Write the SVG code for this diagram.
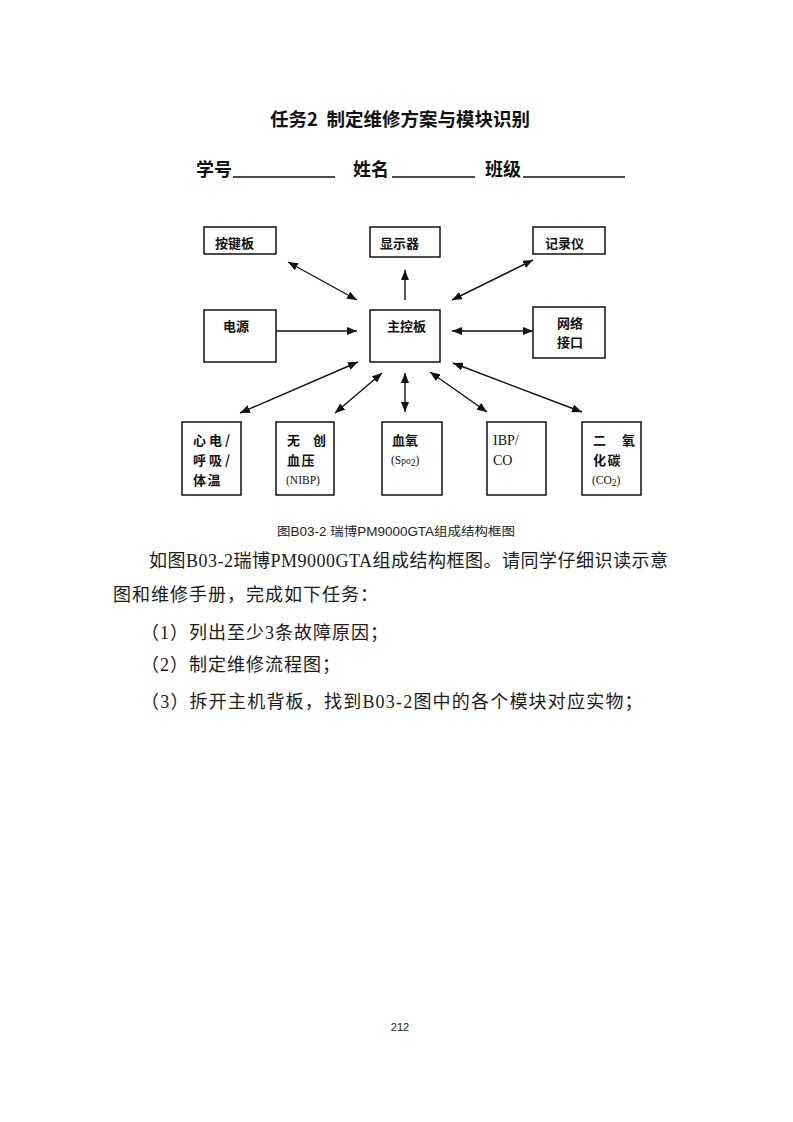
<svg xmlns="http://www.w3.org/2000/svg" width="793" height="1122" viewBox="0 0 793 1122">
<defs>
<style>
.box{fill:#fff;stroke:#111;stroke-width:1.5}
.cn{font-family:"Noto Sans CJK SC","Noto Sans",sans-serif;font-size:13px;font-weight:700;fill:#111}
.lat{font-family:"Liberation Serif","Noto Sans CJK SC",serif;font-size:14px;fill:#111}
.sm{font-family:"Liberation Serif","Noto Sans CJK SC",serif;font-size:11.5px;fill:#111}
.conn{stroke:#111;stroke-width:1.4;fill:none}
.body{font-family:"Liberation Serif","Noto Sans CJK SC",serif;font-size:18px;fill:#1a1a1a}
.head{font-family:"Noto Sans CJK SC",sans-serif;font-weight:700;fill:#111}
</style>
<marker id="ah" viewBox="0 0 10 8" refX="10" refY="4" markerWidth="10" markerHeight="8" markerUnits="userSpaceOnUse" orient="auto-start-reverse">
<path d="M0,0 L10,4 L0,8 z" fill="#111"/>
</marker>
</defs>
<rect width="793" height="1122" fill="#fff"/>

<text class="head" x="400" y="126" font-size="18.5" text-anchor="middle">任务2&#160;&#160;制定维修方案与模块识别</text>

<g id="form">
<text class="head" x="196" y="176" font-size="18">学号</text>
<line x1="233" y1="177" x2="335" y2="177" stroke="#111" stroke-width="1.5"/>
<text class="head" x="353" y="176" font-size="18">姓名</text>
<line x1="392" y1="177" x2="475" y2="177" stroke="#111" stroke-width="1.5"/>
<text class="head" x="485" y="176" font-size="18">班级</text>
<line x1="523" y1="177" x2="625" y2="177" stroke="#111" stroke-width="1.5"/>
</g>

<g id="connectors">
<line class="conn" x1="288" y1="262" x2="357" y2="300" marker-start="url(#ah)" marker-end="url(#ah)"/>
<line class="conn" x1="405" y1="300" x2="405" y2="270" marker-end="url(#ah)"/>
<line class="conn" x1="533" y1="260" x2="452" y2="300" marker-start="url(#ah)" marker-end="url(#ah)"/>
<line class="conn" x1="276" y1="331" x2="357" y2="331" marker-end="url(#ah)"/>
<line class="conn" x1="452" y1="331" x2="533" y2="331" marker-start="url(#ah)" marker-end="url(#ah)"/>
<line class="conn" x1="358" y1="362" x2="240" y2="413" marker-start="url(#ah)" marker-end="url(#ah)"/>
<line class="conn" x1="382" y1="373" x2="335" y2="413" marker-start="url(#ah)" marker-end="url(#ah)"/>
<line class="conn" x1="405" y1="373" x2="405" y2="412" marker-start="url(#ah)" marker-end="url(#ah)"/>
<line class="conn" x1="430" y1="372" x2="487" y2="412" marker-start="url(#ah)" marker-end="url(#ah)"/>
<line class="conn" x1="453" y1="363" x2="582" y2="412" marker-start="url(#ah)" marker-end="url(#ah)"/>
</g>

<g id="keyboard"><rect class="box" x="204" y="227" width="72" height="27"/><text class="cn" x="215" y="248">按键板</text></g>
<g id="display"><rect class="box" x="370" y="227" width="70" height="30"/><text class="cn" x="380" y="248">显示器</text></g>
<g id="recorder"><rect class="box" x="533" y="227" width="72" height="27"/><text class="cn" x="545" y="248">记录仪</text></g>
<g id="power"><rect class="box" x="204" y="310" width="72" height="52"/><text class="cn" x="223" y="331">电源</text></g>
<g id="mainboard"><rect class="box" x="370" y="310" width="70" height="52"/><text class="cn" x="387" y="331">主控板</text></g>
<g id="network"><rect class="box" x="533" y="307" width="72" height="51"/><text class="cn" x="557" y="328">网络</text><text class="cn" x="557" y="347">接口</text></g>

<g id="ecg"><rect class="box" x="182" y="422" width="59" height="73"/>
<text class="cn" x="193" y="445" letter-spacing="3">心电/</text>
<text class="cn" x="193" y="465" letter-spacing="3">呼吸/</text>
<text class="cn" x="193" y="485" letter-spacing="1.5">体温</text></g>
<g id="nibp"><rect class="box" x="276" y="422" width="58" height="73"/>
<text class="cn" x="287" y="445" letter-spacing="13">无创</text>
<text class="cn" x="287" y="465" letter-spacing="1.5">血压</text>
<text class="sm" x="286" y="484">(NIBP)</text></g>
<g id="spo2"><rect class="box" x="382" y="422" width="60" height="73"/>
<text class="cn" x="392" y="445">血氧</text>
<text class="sm" x="391" y="464">(S<tspan font-size="9.5">po</tspan><tspan font-size="9.5" dy="2">2</tspan><tspan dy="-2">)</tspan></text></g>
<g id="ibp"><rect class="box" x="487" y="422" width="59" height="73"/>
<text class="lat" x="493" y="445">IBP/</text>
<text class="lat" x="493" y="465">CO</text></g>
<g id="co2"><rect class="box" x="582" y="422" width="59" height="73"/>
<text class="cn" x="593" y="445" letter-spacing="16">二氧</text>
<text class="cn" x="593" y="465" letter-spacing="1.5">化碳</text>
<text class="sm" x="592" y="484">(CO<tspan font-size="9.5" dy="2">2</tspan><tspan dy="-2">)</tspan></text></g>

<text x="396" y="536" font-family="'Liberation Sans','Noto Sans CJK SC',sans-serif" font-size="12" fill="#222" text-anchor="middle" textLength="238" lengthAdjust="spacingAndGlyphs">图B03-2 瑞博PM9000GTA组成结构框图</text>

<g id="body">
<text class="body" x="149" y="567" textLength="519" lengthAdjust="spacing">如图B03-2瑞博PM9000GTA组成结构框图。请同学仔细识读示意</text>
<text class="body" x="113" y="601" letter-spacing="1">图和维修手册，完成如下任务：</text>
<text class="body" x="141" y="639" letter-spacing="1">（1）列出至少3条故障原因；</text>
<text class="body" x="141" y="671" letter-spacing="1">（2）制定维修流程图；</text>
<text class="body" x="141" y="708" letter-spacing="1.2">（3）拆开主机背板，找到B03-2图中的各个模块对应实物；</text>
</g>

<text x="400" y="1031" font-family="'Liberation Sans',sans-serif" font-size="11" fill="#222" text-anchor="middle">212</text>
</svg>
